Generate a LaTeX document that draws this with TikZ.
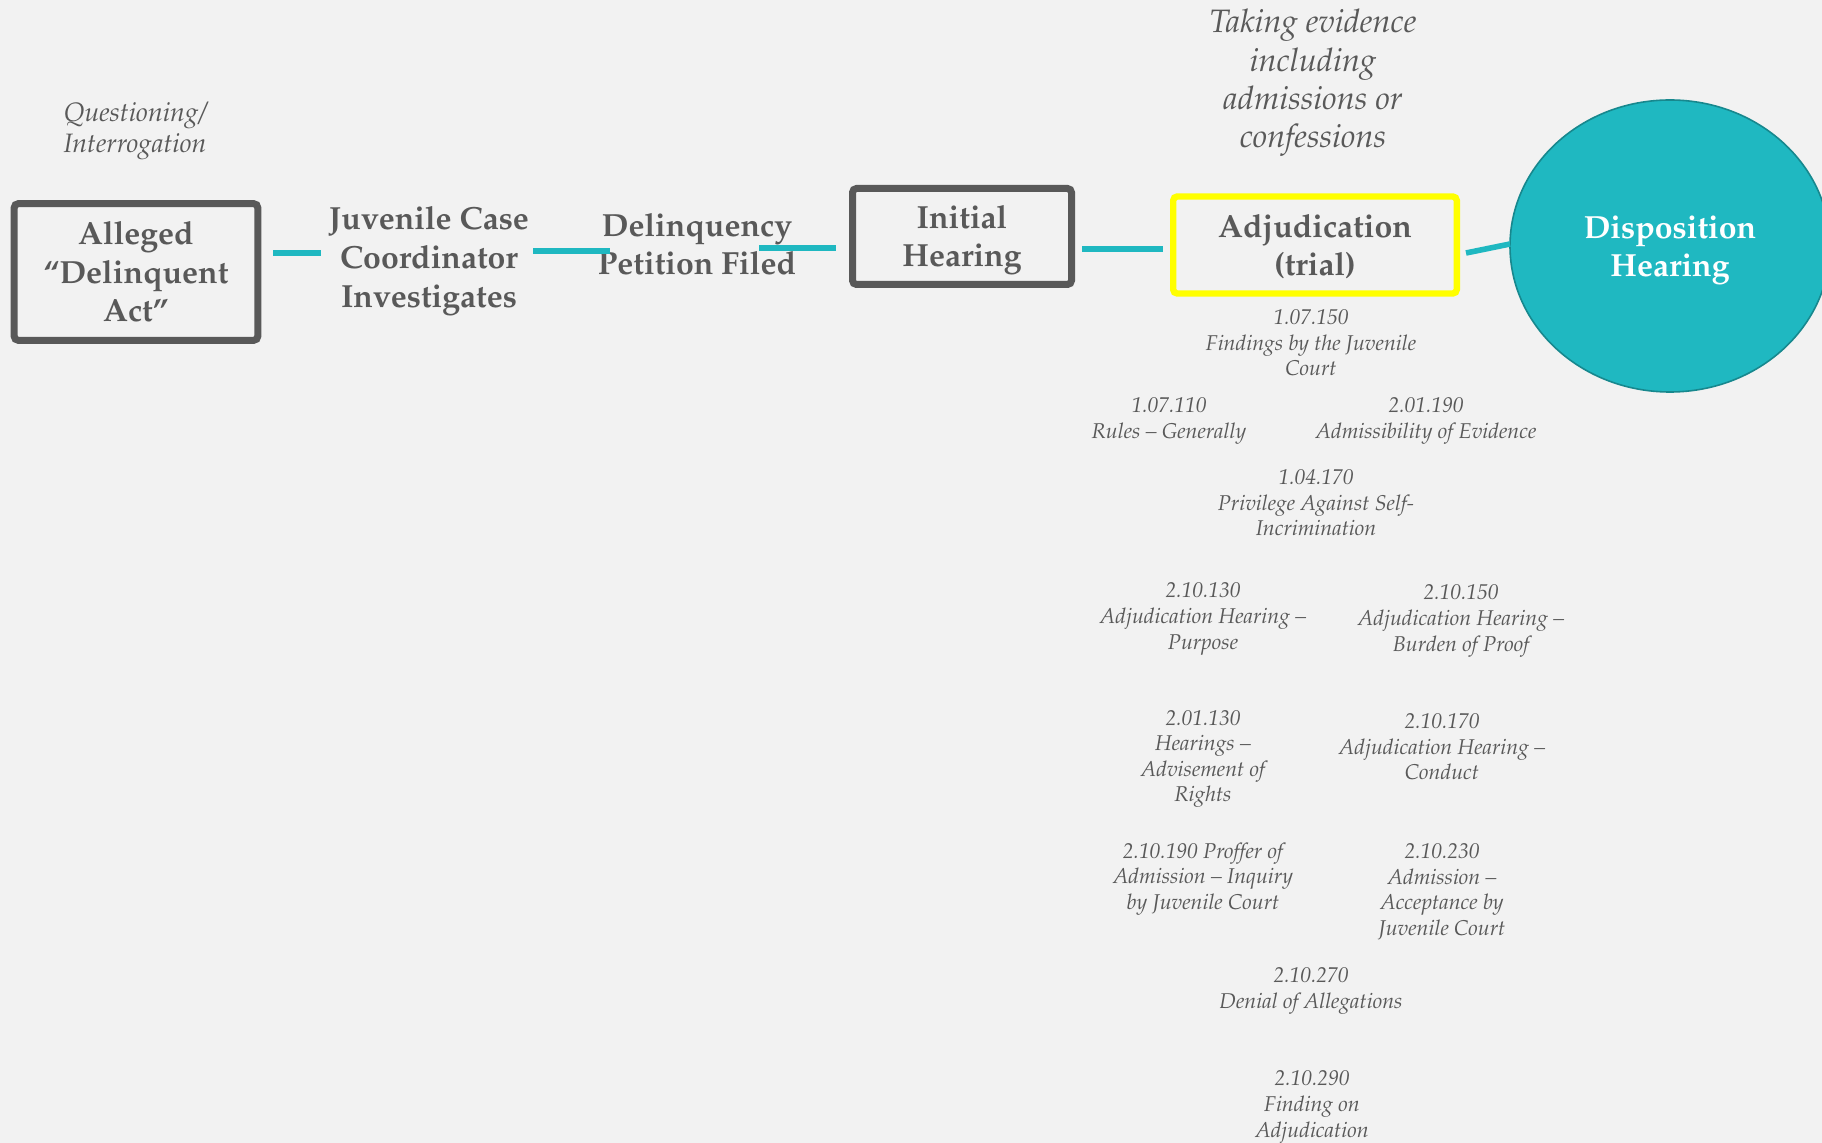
\documentclass[tikz,border=0pt]{standalone}
\usepackage[T1]{fontenc}
\usepackage{mathpazo}
\usetikzlibrary{shapes.geometric}
\definecolor{bgc}{HTML}{F2F2F2}
\definecolor{txtc}{HTML}{595959}
\definecolor{tealc}{HTML}{1FB8C1}
\definecolor{tealdark}{HTML}{17888E}
\definecolor{yelc}{HTML}{FFFF00}
\tikzset{
  boldtxt/.style={text=txtc, align=center, font=\fontsize{16}{19.3}\selectfont\bfseries, inner sep=0pt},
  stepbox/.style={boldtxt, draw=txtc, line width=3.5pt, rounded corners=2pt},
  yelbox/.style={boldtxt, draw=yelc, line width=3.2pt, rounded corners=2pt},
  smalltxt/.style={text=txtc, align=center, font=\fontsize{10.7}{12.8}\selectfont\itshape, inner sep=0pt},
  bignote/.style={text=txtc, align=center, font=\fontsize{16.2}{19.2}\selectfont\itshape, inner sep=0pt},
  midnote/.style={text=txtc, align=center, font=\fontsize{13.3}{15.6}\selectfont\itshape, inner sep=0pt},
  link/.style={draw=tealc, line width=2.8pt}
}
\begin{document}
\begin{tikzpicture}[x=0.5pt,y=-0.5pt]
\fill[bgc] (0,0) rectangle (1822,1143);
\useasboundingbox (0,0) rectangle (1822,1143);
\clip (0,0) rectangle (1822,1143);

% top notes
\node[midnote] (q) at (135,131) {Questioning/\\Interrogation};
\node[bignote] (te) at (1313,83) {Taking evidence\\including\\admissions or\\confessions};

% main chain
\node[stepbox, minimum width=121.8pt, minimum height=68.3pt] (alleged) at (136,272) {Alleged\\``Delinquent\\Act''};
\node[boldtxt] (jcc) at (429,261) {Juvenile Case\\Coordinator\\Investigates};
\node[boldtxt] (dpf) at (697,244) {Delinquency\\Petition Filed};
\node[stepbox, minimum width=109.5pt, minimum height=48pt] (ih) at (962,236.5) {};
\node[boldtxt] (ihlabel) at ([yshift=-1.8pt]ih.center) {Initial\\Hearing};
\node[yelbox, minimum width=141.8pt, minimum height=48.5pt] (adj) at (1315,245) {};
\node[boldtxt] (adjlabel) at ([yshift=-0.9pt]adj.center) {Adjudication\\(trial)};
\node[ellipse, fill=tealc, draw=tealdark, line width=0.8pt, minimum width=160pt, minimum height=146pt, inner sep=0pt] (disp) at (1670,246) {};
\node[text=white, align=center, font=\fontsize{16}{18.6}\selectfont\bfseries, inner sep=0pt] (displabel) at ([yshift=-2.2pt]disp.center) {Disposition\\Hearing};

% connectors
\coordinate (c1a) at (273,253); \coordinate (c1b) at (321,253);
\coordinate (c2a) at (533,251); \coordinate (c2b) at (610,251);
\coordinate (c3a) at (759,248); \coordinate (c3b) at (836,248);
\coordinate (c4a) at (1082,249); \coordinate (c4b) at (1163,249);
\coordinate (c5a) at (1466,253); \coordinate (c5b) at (1510,244);
\draw[link] (c1a) -- (c1b);
\draw[link] (c2a) -- (c2b);
\draw[link] (c3a) -- (c3b);
\draw[link] (c4a) -- (c4b);
\draw[link] (c5a) -- (c5b);

% rule references
\node[smalltxt] (r1) at (1311,343) {1.07.150\\Findings by the Juvenile\\Court};
\node[smalltxt] (r2) at (1169,421) {1.07.110\\Rules -- Generally};
\node[smalltxt] (r3) at (1426,421) {2.01.190\\Admissibility of Evidence};
\node[smalltxt] (r4) at (1316,503) {1.04.170\\Privilege Against Self-\\Incrimination};
\node[smalltxt] (r5) at (1203,619) {2.10.130\\Adjudication Hearing --\\Purpose};
\node[smalltxt] (r6) at (1461,621) {2.10.150\\Adjudication Hearing --\\Burden of Proof};
\node[smalltxt] (r7) at (1203,759) {2.01.130\\Hearings --\\Advisement of\\Rights};
\node[smalltxt] (r8) at (1442,747) {2.10.170\\Adjudication Hearing --\\Conduct};
\node[smalltxt] (r9) at (1203,879) {2.10.190 Proffer of\\Admission -- Inquiry\\by Juvenile Court};
\node[smalltxt] (r10) at (1442,892) {2.10.230\\Admission --\\Acceptance by\\Juvenile Court};
\node[smalltxt] (r11) at (1311,991) {2.10.270\\Denial of Allegations};
\node[smalltxt] (r12) at (1312,1107) {2.10.290\\Finding on\\Adjudication};
\end{tikzpicture}
\end{document}
